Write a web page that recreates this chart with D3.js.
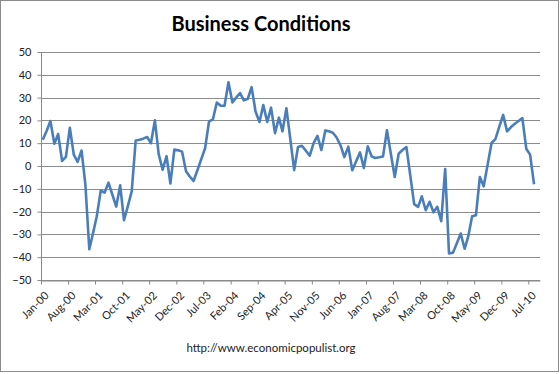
<!DOCTYPE html>
<html>
<head>
<meta charset="utf-8">
<script src="https://cdn.jsdelivr.net/npm/d3@7/dist/d3.min.js"></script>
<style>
  body { margin: 0; background: #fff; }
  svg { display: block; }
  .axis text { font-family: Lato, "Open Sans", sans-serif; font-size: 11px; fill: #222; }
  .axis path, .axis line { stroke: #888; }
</style>
</head>
<body>
<div id="chart"></div>
<script>
// monthly readings, Jan-00 .. Aug-10
var startMonth = "Jan-00";
var values = [
  11.5, 15.5, 19.7, 9.8, 14, 2.2, 4, 16.8, 5, 1.8, 6.8, -8,
  -36.5, -29, -22, -10.8, -11.7, -7.3, -12.5, -17.8, -8.5, -23.8, -17.5, -11,
  11.2, 11.5, 12, 12.7, 10, 20, 5.2, -1.6, 4.3, -7.7, 7.2, 6.9,
  6.3, -2.3, -4.5, -6.6, -2, 3, 7.8, 19.5, 20.6, 27.8, 26.4, 26.4,
  36.7, 27.9, 30, 32, 28.8, 29.5, 34.6, 23.9, 19.3, 26.7, 19.3, 25.6,
  14.4, 21.2, 15.2, 25.3, 12, -1.8, 8.3, 8.9, 6.7, 4.5, 10, 13.2,
  7, 15.6, 15.2, 14.6, 12.5, 9, 3.9, 8.5, -1.9, 2, 6, -0.9,
  8.6, 4.2, 3.5, 3.8, 4.2, 15.7, 5.5, -4.8, 5.4, 7, 8.3, -4,
  -16.7, -17.9, -13.3, -19.4, -15.7, -20.3, -17.9, -24.2, -1.3, -38.4, -38, -34,
  -29.6, -36.3, -31, -22, -21.6, -4.8, -8.9, 0.6, 10.1, 11.8, 17.3, 22.4,
  15.2, 17.1, 18.4, 19.7, 21, 7.6, 5, -8
];
var tickLabels = ["Jan-00", "Aug-00", "Mar-01", "Oct-01", "May-02", "Dec-02", "Jul-03",
  "Feb-04", "Sep-04", "Apr-05", "Nov-05", "Jun-06", "Jan-07", "Aug-07", "Mar-08",
  "Oct-08", "May-09", "Dec-09", "Jul-10"];
var yTicks = [-50, -40, -30, -20, -10, 0, 10, 20, 30, 40, 50];

var W = 560, H = 374;
var margin = { left: 41, right: 20, top: 52, bottom: 94 };

var parseMonth = d3.timeParse("%b-%y");
var start = parseMonth(startMonth);

var data = values.map(function(v, i) {
  return { date: new Date(start.getFullYear(), start.getMonth() + i, 15), value: v };
});

var svg = d3.select("#chart").append("svg")
  .attr("width", W)
  .attr("height", H);

svg.append("rect")
  .attr("x", 0.5).attr("y", 0.5)
  .attr("width", W - 2).attr("height", H - 3)
  .attr("fill", "#fff")
  .attr("stroke", "#8c8c8c");

var x = d3.scaleTime()
  .domain([start, new Date(start.getFullYear(), start.getMonth() + values.length + 1, 1)])
  .range([margin.left, W - margin.right]);

var y = d3.scaleLinear()
  .domain([-50, 50])
  .range([H - margin.bottom, margin.top]);

// gridlines
svg.append("g")
  .selectAll("line")
  .data(yTicks)
  .enter()
  .append("line")
  .attr("x1", margin.left)
  .attr("x2", W - margin.right)
  .attr("y1", function(d) { return Math.round(y(d)) + 0.5; })
  .attr("y2", function(d) { return Math.round(y(d)) + 0.5; })
  .attr("stroke", "#8c8c8c");

var yAxis = d3.axisLeft(y).tickValues(yTicks).tickSize(4).tickPadding(6);
svg.append("g")
  .attr("class", "y axis")
  .attr("transform", "translate(" + (margin.left + 0.5) + ",0)")
  .call(yAxis)
  .call(function(g) { g.select(".domain").attr("d", "M0," + y(50) + "V" + y(-50)); });

var xAxis = d3.axisBottom(x)
  .tickValues(tickLabels.map(parseMonth))
  .tickFormat(d3.timeFormat("%b-%y"))
  .tickSize(4)
  .tickSizeOuter(0);

var xg = svg.append("g")
  .attr("class", "x axis")
  .attr("transform", "translate(0," + (Math.round(y(-50)) + 0.5) + ")")
  .call(xAxis);

xg.selectAll("text")
  .style("text-anchor", "end")
  .attr("dx", "-0.5em")
  .attr("dy", "0.9em")
  .attr("transform", "rotate(-45)");

var line = d3.line()
  .x(function(d) { return x(d.date); })
  .y(function(d) { return y(d.value); });

svg.append("path")
  .datum(data)
  .attr("fill", "none")
  .attr("stroke", "#4a7ebb")
  .attr("stroke-width", 2.6)
  .attr("stroke-linejoin", "round")
  .attr("d", line);

svg.append("text")
  .attr("x", 261)
  .attr("y", 31)
  .attr("text-anchor", "middle")
  .style("font-family", "Lato, 'Open Sans', sans-serif")
  .style("font-weight", "bold")
  .style("font-size", "20px")
  .text("Business Conditions");

svg.append("text")
  .attr("x", 271)
  .attr("y", 352)
  .attr("text-anchor", "middle")
  .style("font-family", "Lato, 'Open Sans', sans-serif")
  .style("font-size", "11.5px")
  .style("fill", "#222")
  .text("http://www.economicpopulist.org");
</script>
</body>
</html>
